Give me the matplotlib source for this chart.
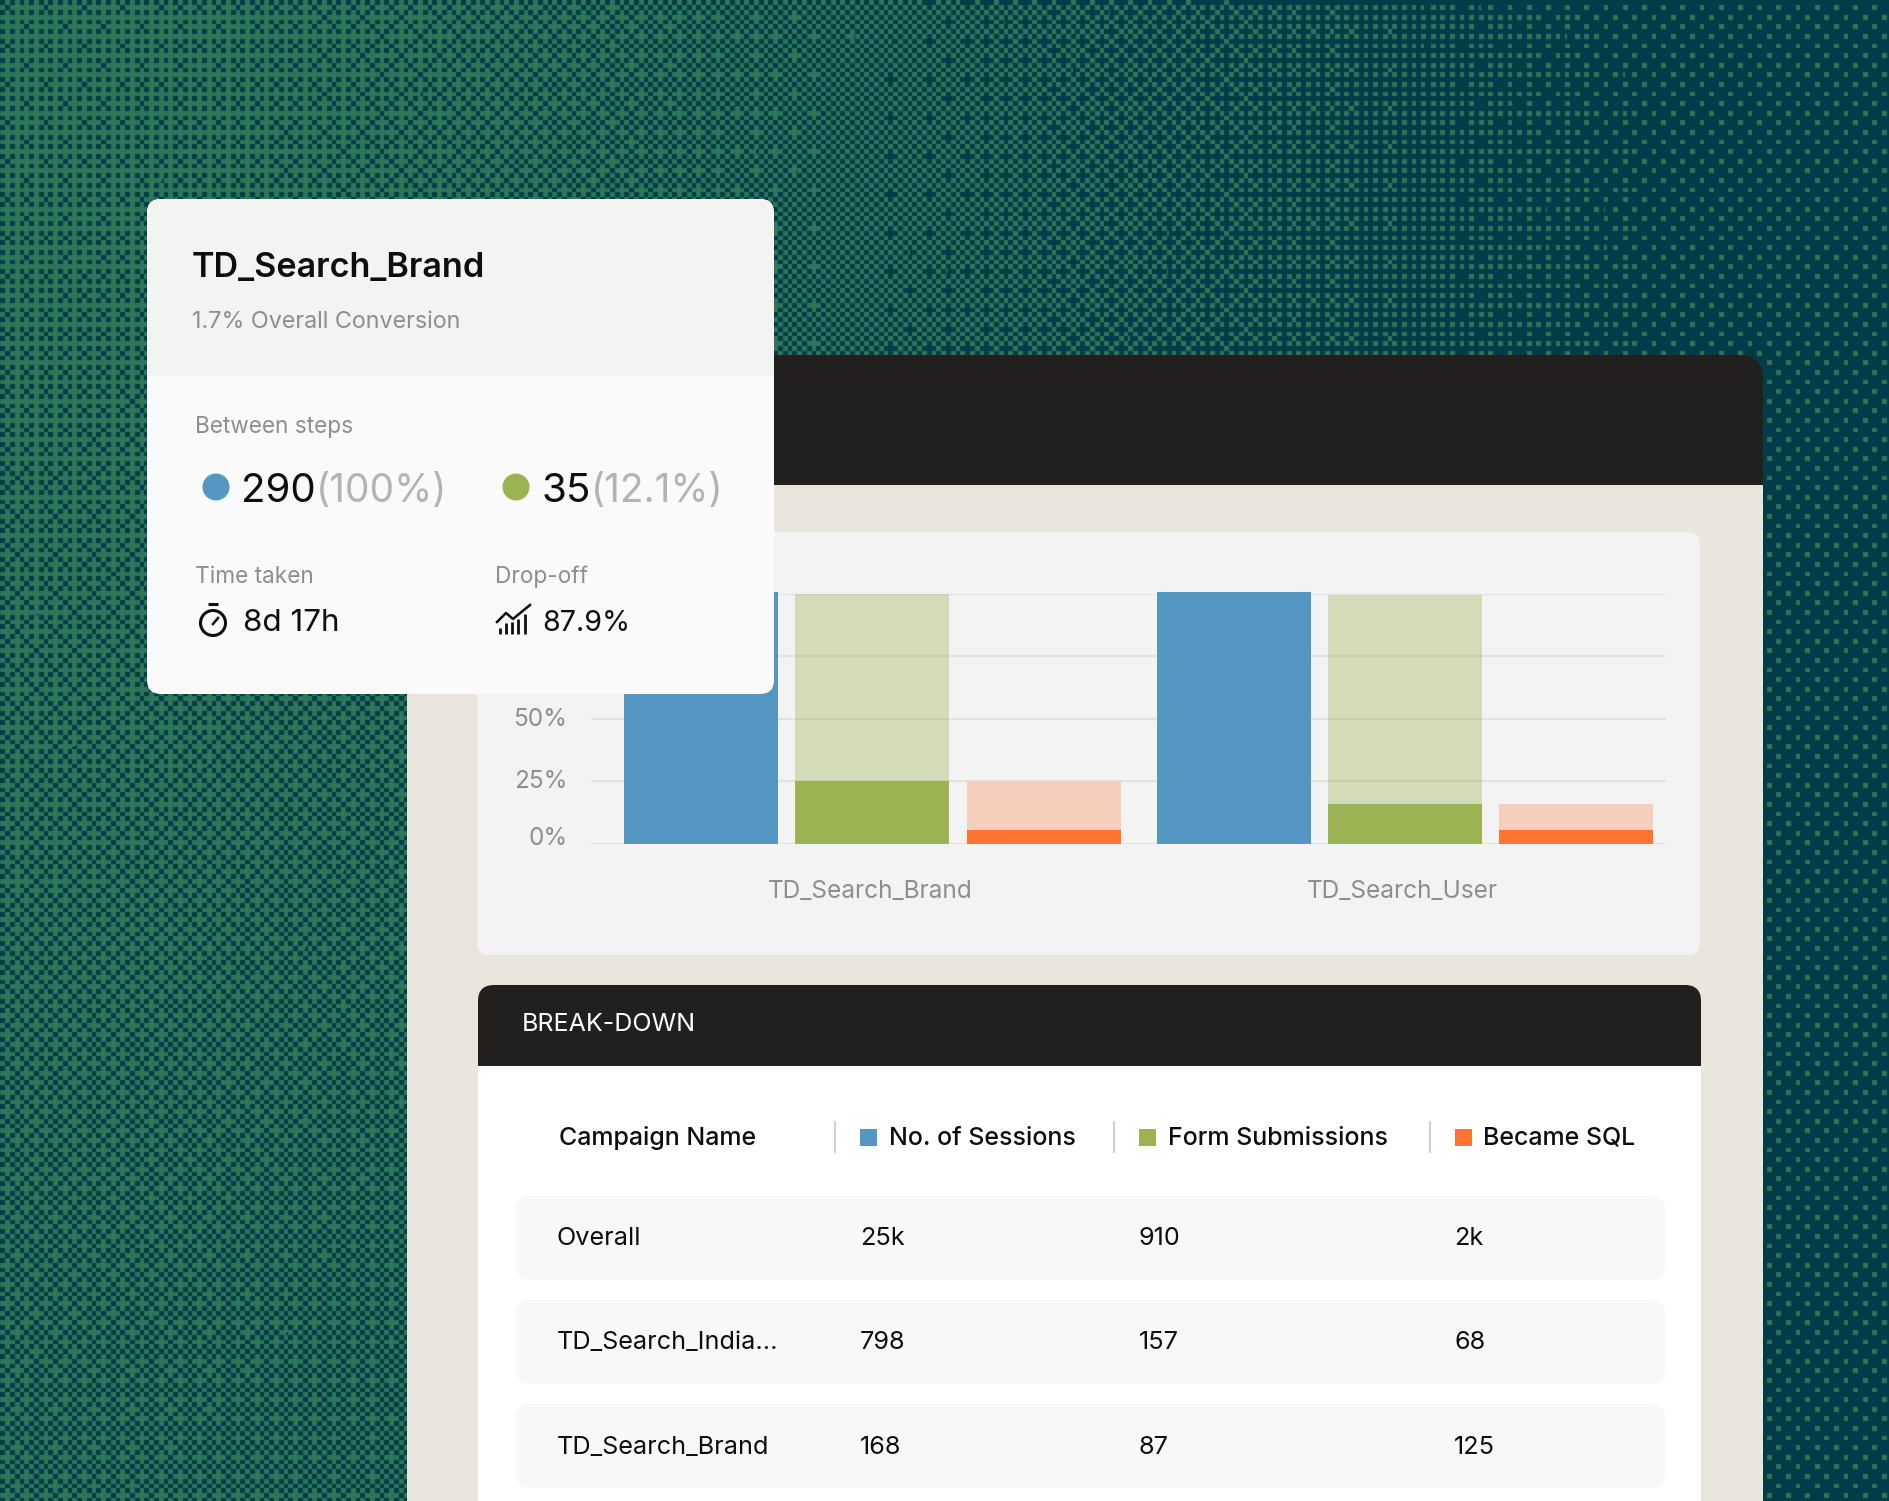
import numpy as np
import matplotlib
matplotlib.use("Agg")
import matplotlib.pyplot as plt
from matplotlib.patches import FancyBboxPatch, Rectangle, Circle
from matplotlib.transforms import ScaledTranslation

# ---------- data ----------
groups = ["TD_Search_Brand", "TD_Search_User"]
sessions = [100.8, 100.8]
forms_total = [100, 99.5]
forms = [25, 16]
sql_total = [25, 16]
sql = [5.5, 5.5]
y_ticks = [0, 25, 50, 75, 100]
y_labels = ["0%", "25%", "50%", "75%", "100%"]

table_cols = ["No. of Sessions", "Form Submissions", "Became SQL"]
table_names = ["Overall", "TD_Search_India...", "TD_Search_Brand"]
table_sessions = ["25k", "798", "168"]
table_forms = ["910", "157", "87"]
table_sql = ["2k", "68", "125"]

card_title = "TD_Search_Brand"
card_sub = "1.7% Overall Conversion"
step_a = ("290", "(100%)")
step_b = ("35", "(12.1%)")
time_taken = "8d 17h"
drop_off = "87.9%"

# ---------- style ----------
BLUE, GREEN, ORANGE = "#5397C2", "#9CB354", "#FF7433"
LGREEN, LORANGE = "#D5DDBA", "#F5CFBC"
DARK, BEIGE, PANEL = "#22201E", "#EAE6DE", "#F3F3F3"
GREY, LGREY, INK = "#8E8E8E", "#B3B3B3", "#0E0E0E"
plt.rcParams["font.family"] = ["Inter", "DejaVu Sans"]

W, H = 1890, 1501
fig = plt.figure(figsize=(W / 100, H / 100), dpi=100)


def layer(z):
    a = fig.add_axes([0, 0, 1, 1], zorder=z)
    a.set_xlim(0, W)
    a.set_ylim(H, 0)
    a.axis("off")
    return a


def rrect(a, x0, y0, x1, y1, r, color, z=1):
    a.add_patch(FancyBboxPatch((x0, y0), x1 - x0, y1 - y0,
                               boxstyle=f"round,pad=0,rounding_size={r}",
                               fc=color, ec="none", zorder=z))


# ---------- halftone background ----------
bg = layer(0)
bayer = np.array([[0]])
for _ in range(3):
    bayer = np.block([[4 * bayer, 4 * bayer + 2], [4 * bayer + 3, 4 * bayer + 1]])
thresh = (bayer + 0.5) / 64
cell = 4.8
yy, xx = np.mgrid[0:H, 0:W]
ci = (xx / cell).astype(int)
cj = (yy / cell).astype(int)
u = xx / W
v = yy / H
dens = 0.27 + 0.66 * u ** 1.5 + 0.16 * v * (1 - u) + 0.10 * (1 - v) * u * u
dens = np.minimum(dens, 0.875)
mask = dens > thresh[cj % 8, ci % 8]
A = np.array([0x2E, 0x76, 0x58]) / 255
B = np.array([0x03, 0x3C, 0x48]) / 255
img = np.where(mask[..., None], B, A)
# slight softening, as in the compressed original
img = (np.roll(img, 1, 0) + np.roll(img, -1, 0) + np.roll(img, 1, 1) + np.roll(img, -1, 1) + 4 * img) / 8
bg.imshow(img, extent=(0, W, H, 0), interpolation="nearest", aspect="auto", zorder=0)
bg.set_xlim(0, W)
bg.set_ylim(H, 0)

# ---------- main window ----------
rrect(bg, 407, 355, 1763, 520, 24, DARK)
bg.add_patch(Rectangle((407, 485), 1356, H - 485, fc=BEIGE, ec="none", zorder=1.1))
rrect(bg, 477, 532, 1700, 955, 12, PANEL, 1.2)

# ---------- break-down table ----------
rrect(bg, 478, 985, 1701, 1100, 16, DARK, 1.3)
bg.add_patch(Rectangle((478, 1066), 1223, H - 1066, fc="white", ec="none", zorder=1.4))
bg.text(522, 1031, "BREAK-DOWN", color="white", fontsize=18, va="baseline", zorder=2)

HEAD_Y = 1145
HEAD_FS = 18
bg.text(559, HEAD_Y, "Campaign Name", color=INK, fontsize=HEAD_FS, fontweight="medium",
        va="baseline", zorder=2)
for sx, lx, tx, name, c in zip([835, 1114, 1430], [860, 1139, 1455], [889, 1168, 1483],
                               table_cols, [BLUE, GREEN, ORANGE]):
    bg.plot([sx, sx], [1122, 1152], color="#CFCFCF", lw=1.4, zorder=2)
    bg.add_patch(Rectangle((lx, 1129), 17, 17, fc=c, ec="none", zorder=2))
    bg.text(tx, HEAD_Y, name, color=INK, fontsize=HEAD_FS, fontweight="medium",
            va="baseline", zorder=2)

row_tops = [1196, 1300, 1404]
row_base = [1245, 1349, 1454]
ROW_FS = 18.2
for top, base, n, a_, b_, c_ in zip(row_tops, row_base, table_names,
                                    table_sessions, table_forms, table_sql):
    rrect(bg, 516, top, 1665, top + 84, 14, "#F9F8F6", 1.5)
    bg.text(556.5, base, n, color=INK, fontsize=ROW_FS, va="baseline", zorder=2)
    bg.text(860, base, a_, color=INK, fontsize=ROW_FS, va="baseline", zorder=2)
    bg.text(1139, base, b_, color=INK, fontsize=ROW_FS, va="baseline", zorder=2)
    bg.text(1454, base, c_, color=INK, fontsize=ROW_FS, va="baseline", zorder=2)

# ---------- bar chart ----------
ax = fig.add_axes([591 / W, 1 - 844 / H, (1666 - 591) / W, (844 - 594) / H], zorder=1)
ax.patch.set_alpha(0)
x = np.arange(len(groups))
off, bw = 0.3215, 0.289
ax.set_xlim(-0.5284, 1.4902)
ax.set_ylim(0, 100)
ax.set_yticks(y_ticks, y_labels)
ax.set_xticks(x, groups)
ax.grid(axis="y", color="#E2E2E0", lw=1.6, zorder=0)
ax.set_axisbelow(True)
for s in ax.spines.values():
    s.set_visible(False)
ax.tick_params(length=0, colors=GREY, labelsize=17.5)
ax.tick_params(axis="y", pad=17)
ax.tick_params(axis="x", pad=26)
for lab in ax.get_xticklabels():
    lab.set_fontsize(17.6)
    lab.set_transform(lab.get_transform() + ScaledTranslation(-2.5 / 100, 0, fig.dpi_scale_trans))
shift = [8, 2, 1.5, 0, 0]
for lab, sh in zip(ax.get_yticklabels(), shift):
    lab.set_transform(lab.get_transform() + ScaledTranslation(0, sh / 100, fig.dpi_scale_trans))
ax.bar(x - off, sessions, bw, color=BLUE, zorder=3, clip_on=False)
ax.bar(x, forms_total, bw, color=GREEN, alpha=0.36, zorder=3)
ax.bar(x, forms, bw, color=GREEN, zorder=4)
ax.bar(x + off, sql_total, bw, color=LORANGE, zorder=3)
ax.bar(x + off, sql, bw, color=ORANGE, zorder=4)

# ---------- floating card ----------
top = layer(3)
top.patch.set_alpha(0)
rrect(top, 147, 199, 774, 694, 14, "#FAFAFA", 1)
rrect(top, 147, 199, 774, 400, 14, "#F3F3F1", 1.1)
top.add_patch(Rectangle((147, 376), 627, 40, fc="#FAFAFA", ec="none", zorder=1.2))

top.text(192, 277, card_title, color=INK, fontsize=24.6, fontweight="semibold", va="baseline", zorder=3)
top.text(192, 328, card_sub, color=GREY, fontsize=16.8, va="baseline", zorder=3)
top.text(195, 433, "Between steps", color=GREY, fontsize=16.3, va="baseline", zorder=3)
top.text(195, 583, "Time taken", color=GREY, fontsize=16.3, va="baseline", zorder=3)
top.text(495, 583, "Drop-off", color=GREY, fontsize=16.3, va="baseline", zorder=3)

top.add_patch(Circle((216, 487), 13.5, fc=BLUE, ec="none", zorder=3))
top.text(241, 502, step_a[0], color=INK, fontsize=29, va="baseline", zorder=3)
top.text(316, 502, step_a[1], color=LGREY, fontsize=28, va="baseline", zorder=3)
top.add_patch(Circle((516, 487), 13.5, fc=GREEN, ec="none", zorder=3))
top.text(542, 502, step_b[0], color=INK, fontsize=29, va="baseline", zorder=3)
top.text(591, 502, step_b[1], color=LGREY, fontsize=28, va="baseline", zorder=3)

top.text(243, 631, time_taken, color=INK, fontsize=22.6, va="baseline", zorder=3)
top.text(542, 631, drop_off, color=INK, fontsize=20.6, va="baseline", zorder=3)

# stopwatch icon
top.add_patch(Circle((213, 623), 12.5, fc="none", ec=INK, lw=2.2, zorder=3))
top.plot([208, 218], [604, 604], color=INK, lw=2.2, solid_capstyle="butt", zorder=3)
top.plot([213, 218], [624, 618], color=INK, lw=1.8, zorder=3)
# drop-off icon
for bx, by in zip([500, 506, 512, 518, 525], [628, 623, 622, 619, 614]):
    top.plot([bx, bx], [by, 634], color=INK, lw=2, solid_capstyle="butt", zorder=3)
top.plot([497, 506, 513, 519, 530], [622, 613, 619, 614, 605], color=INK, lw=1.8, zorder=3)

fig.savefig("out.png", dpi=100)
